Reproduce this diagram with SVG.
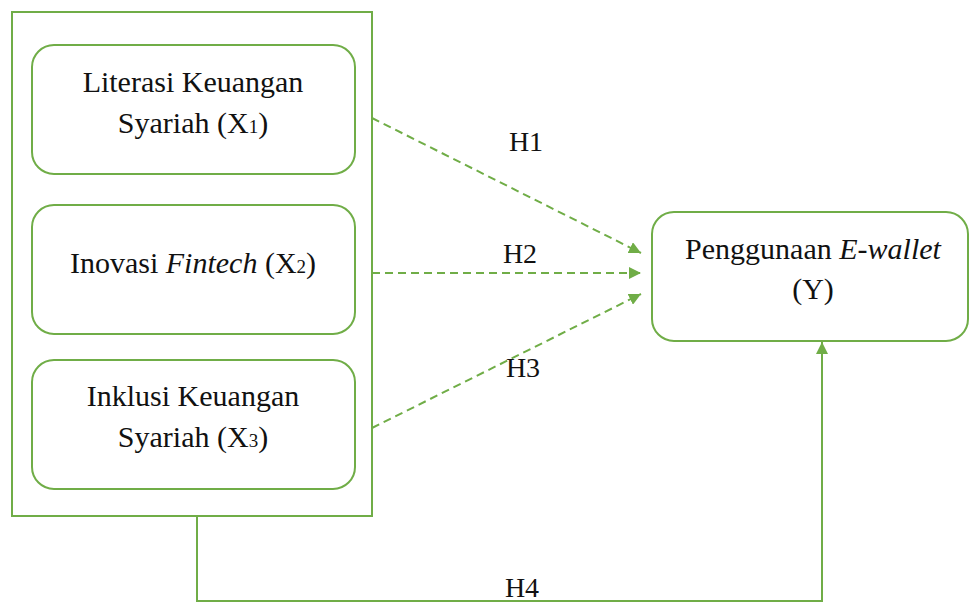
<svg xmlns="http://www.w3.org/2000/svg" width="969" height="604" viewBox="0 0 969 604">
<style>
.box{fill:#fff;stroke:#70AD47;stroke-width:2}
.dash{stroke:#70AD47;stroke-width:2;fill:none;stroke-dasharray:8,5}
.solid{stroke:#70AD47;stroke-width:2;fill:none}
.n{font-family:'Liberation Serif','Times New Roman',serif;font-size:30px;fill:#111;text-anchor:middle}
.l{font-family:'Liberation Serif','Times New Roman',serif;font-size:28px;fill:#111;text-anchor:middle}
</style>
<defs>
<marker id="ah" viewBox="0 0 10 10" refX="10" refY="5" markerWidth="6" markerHeight="6" orient="auto" markerUnits="strokeWidth">
<path d="M0,0 L10,5 L0,10 z" fill="#70AD47"/>
</marker>
</defs>
<rect width="969" height="604" fill="#fff"/>
<g id="group-x">
<rect class="box" x="12" y="12" width="360" height="504"/>
</g>
<g id="x1">
<rect class="box" x="32" y="45" width="323" height="129" rx="22"/>
<text class="n" x="193" y="92">Literasi Keuangan</text>
<text class="n" x="193" y="133">Syariah (X<tspan font-size="19">1</tspan>)</text>
</g>
<g id="x2">
<rect class="box" x="32" y="205" width="323" height="129" rx="22"/>
<text class="n" x="193" y="273">Inovasi <tspan font-style="italic">Fintech</tspan> (X<tspan font-size="19">2</tspan>)</text>
</g>
<g id="x3">
<rect class="box" x="32" y="360" width="323" height="129" rx="22"/>
<text class="n" x="193" y="406">Inklusi Keuangan</text>
<text class="n" x="193" y="447">Syariah (X<tspan font-size="19">3</tspan>)</text>
</g>
<g id="y">
<rect class="box" x="652" y="212" width="316" height="129" rx="22"/>
<text class="n" x="813" y="259">Penggunaan <tspan font-style="italic">E-wallet</tspan></text>
<text class="n" x="813" y="299">(Y)</text>
</g>
<g id="connectors">
<line class="dash" x1="372" y1="118" x2="641" y2="253" marker-end="url(#ah)"/>
<line class="dash" x1="372" y1="273" x2="641" y2="273" marker-end="url(#ah)"/>
<line class="dash" x1="372" y1="428" x2="641" y2="294" marker-end="url(#ah)"/>
<polyline class="solid" points="197,516 197,601 822,601 822,342" marker-end="url(#ah)"/>
<text class="l" x="526" y="151">H1</text>
<text class="l" x="520" y="263">H2</text>
<text class="l" x="523" y="377">H3</text>
<text class="l" x="522" y="597">H4</text>
</g>
</svg>
